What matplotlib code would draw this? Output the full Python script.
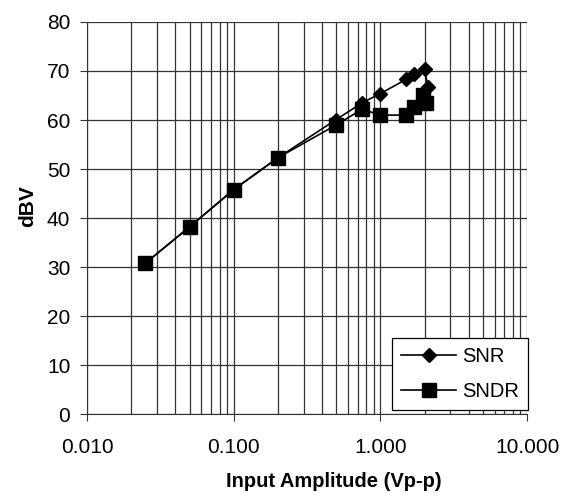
import matplotlib.pyplot as plt
from matplotlib.ticker import FixedLocator, FixedFormatter, NullFormatter

plt.rcParams['font.family'] = ['Liberation Sans', 'DejaVu Sans']

# Données
snr_x = [0.025, 0.05, 0.1, 0.2, 0.5, 0.75, 1.0, 1.5, 1.7, 2.0, 2.1]
snr_y = [30.8, 38.2, 45.8, 52.3, 60.1, 63.5, 65.4, 68.3, 69.3, 70.4, 66.8]
sndr_x = [0.025, 0.05, 0.1, 0.2, 0.5, 0.75, 1.0, 1.5, 1.7, 1.95, 2.05]
sndr_y = [30.8, 38.2, 45.8, 52.3, 59.0, 62.2, 61.0, 61.0, 62.6, 65.0, 63.5]

x_ticks = [0.01, 0.1, 1, 10]
x_labels = ["0.010", "0.100", "1.000", "10.000"]
y_ticks = list(range(0, 81, 10))

fig = plt.figure(figsize=(5.65, 4.99), dpi=100)
ax = fig.add_axes([0.154, 0.170, 0.779, 0.786])

ax.plot(snr_x, snr_y, color='black', lw=1.2, marker='D', markersize=7.5,
        markerfacecolor='black', label='SNR', zorder=3)
ax.plot(sndr_x, sndr_y, color='black', lw=1.2, marker='s', markersize=9.5,
        markerfacecolor='black', label='SNDR', zorder=3)

ax.set_xscale('log')
ax.set_xlim(0.01, 10)
ax.set_ylim(0, 80)
ax.xaxis.set_major_locator(FixedLocator(x_ticks))
ax.xaxis.set_major_formatter(FixedFormatter(x_labels))
minor = [m * 10.0 ** e for e in range(-2, 1) for m in range(2, 10)]
ax.xaxis.set_minor_locator(FixedLocator(minor))
ax.xaxis.set_minor_formatter(NullFormatter())
ax.set_yticks(y_ticks)

# Grille
ax.grid(True, which='major', axis='both', color='#333333', lw=0.9)
ax.grid(True, which='minor', axis='x', color='#333333', lw=0.9)
ax.set_axisbelow(True)

for side in ['top', 'right']:
    ax.spines[side].set_visible(False)
ax.spines['left'].set_color('#333333')
ax.spines['bottom'].set_color('#333333')
ax.tick_params(axis='y', which='major', direction='out', length=5,
               labelsize=15, color='#333333', pad=7)
ax.tick_params(axis='x', which='major', direction='out', length=5,
               labelsize=15, color='#333333', pad=12)
ax.tick_params(axis='x', which='minor', length=0)

ax.set_xlabel("Input Amplitude (Vp-p)", fontsize=14.5, fontweight='bold', labelpad=11)
ax.set_ylabel("dBV", fontsize=15, fontweight='bold', labelpad=7)
ax.xaxis.label.set_x(0.561)
ax.yaxis.label.set_y(0.53)

leg = ax.legend(loc='lower right', bbox_to_anchor=(1.003, 0.01), fontsize=14.5,
                handlelength=2.75, handletextpad=0.3, fancybox=False, framealpha=1,
                edgecolor='black', borderpad=0.45, labelspacing=0.8,
                borderaxespad=0)
leg.get_frame().set_linewidth(0.9)

fig.savefig("out.png", dpi=100)
